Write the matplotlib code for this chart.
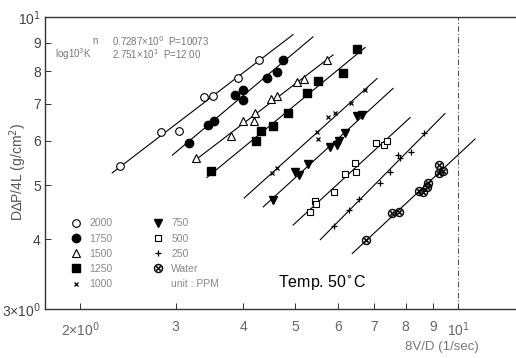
import numpy as np
import matplotlib
matplotlib.use("Agg")
import matplotlib.pyplot as plt
from matplotlib.lines import Line2D

plt.rcParams['font.family'] = ['Liberation Sans', 'DejaVu Sans']
plt.rcParams['mathtext.fontset'] = 'dejavusans'

# ---- data ----
x_2000 = [2.37, 2.82, 3.04, 3.39, 3.52, 3.92, 4.28]
y_2000 = [5.42, 6.22, 6.24, 7.19, 7.21, 7.78, 8.39]
x_1750 = [3.18, 3.45, 3.54, 3.87, 4.00, 4.00, 4.43, 4.62, 4.75]
y_1750 = [5.94, 6.40, 6.51, 7.25, 7.40, 7.10, 7.78, 7.98, 8.39]
x_1500 = [3.28, 3.80, 4.00, 4.19, 4.21, 4.51, 4.62, 5.04, 5.19, 5.72]
y_1500 = [5.60, 6.11, 6.51, 6.51, 6.73, 7.13, 7.22, 7.66, 7.75, 8.39]
x_1250 = [3.49, 4.23, 4.32, 4.55, 4.85, 5.26, 5.51, 6.13, 6.50]
y_1250 = [5.31, 5.99, 6.24, 6.37, 6.73, 7.31, 7.69, 7.95, 8.75]
x_1000 = [4.53, 4.62, 5.48, 5.51, 5.75, 5.92, 6.34, 6.73]
y_1000 = [5.26, 5.37, 6.22, 6.04, 6.62, 6.73, 7.01, 7.40]
x_750 = [4.55, 4.99, 5.08, 5.28, 5.80, 5.97, 6.02, 6.18, 6.50, 6.64]
y_750 = [4.70, 5.28, 5.22, 5.46, 5.84, 5.89, 5.99, 6.19, 6.65, 6.67]
x_500 = [5.32, 5.44, 5.46, 5.90, 6.18, 6.45, 6.47, 7.05, 7.29, 7.39]
y_500 = [4.47, 4.68, 4.62, 4.86, 5.24, 5.48, 5.28, 5.96, 5.89, 5.99]
x_250 = [5.90, 6.28, 6.56, 7.17, 7.48, 7.74, 7.81, 8.18, 8.65]
y_250 = [4.23, 4.51, 4.72, 5.04, 5.28, 5.67, 5.60, 5.72, 6.19]
x_water = [6.76, 7.55, 7.77, 8.47, 8.61, 8.76, 8.79, 9.22, 9.38, 9.22]
y_water = [3.99, 4.45, 4.47, 4.88, 4.86, 4.96, 5.04, 5.26, 5.31, 5.44]

series_labels = ['2000', '1750', '1500', '1250', '1000', '750', '500', '250', 'Water']
# extent of each fitted line along x
line_x_start = [2.29, 2.96, 3.24, 3.43, 4.02, 4.36, 4.95, 5.56, 6.37]
line_x_end = [4.95, 5.39, 5.87, 6.73, 7.08, 7.58, 8.15, 9.46, 10.75]

x_ticks = [2, 3, 4, 5, 6, 7, 8, 9, 10]
x_ticklabels = ['2×10$^0$', '3', '4', '5', '6', '7', '8', '9', '10$^1$']
y_ticks = [3, 4, 5, 6, 7, 8, 9, 10]
y_ticklabels = ['3×10$^0$', '4', '5', '6', '7', '8', '9', '10$^1$']

xs = [x_2000, x_1750, x_1500, x_1250, x_1000, x_750, x_500, x_250, x_water]
ys = [y_2000, y_1750, y_1500, y_1250, y_1000, y_750, y_500, y_250, y_water]

styles = [
    dict(marker='o', ms=5.5, mfc='white', mec='black', mew=0.8),
    dict(marker='o', ms=6, mfc='black', mec='black'),
    dict(marker='^', ms=5.5, mfc='white', mec='black', mew=0.8),
    dict(marker='s', ms=5.3, mfc='black', mec='black'),
    dict(marker='x', ms=3, mfc='black', mec='black', mew=0.9),
    dict(marker='v', ms=6, mfc='black', mec='black'),
    dict(marker='s', ms=5, mfc='white', mec='black', mew=0.8),
    dict(marker='+', ms=4.5, mfc='black', mec='black', mew=0.9),
    dict(marker='$\\otimes$', ms=6.5, mfc='black', mec='black', mew=0.3),
]

fig = plt.figure(figsize=(5.16, 3.58), dpi=100)
W, H = 516, 358
ax = fig.add_axes([45 / W, 1 - 309 / H, (W - 45) / W, (309 - 17) / H])
ax.set_xscale('log')
ax.set_yscale('log')

handles = []
for xv, yv, st, lab, x0, x1 in zip(xs, ys, styles, series_labels, line_x_start, line_x_end):
    lx, ly = np.log10(xv), np.log10(yv)
    k, b = np.polyfit(lx, ly, 1)
    xl = np.array([x0, x1])
    ax.plot(xl, 10 ** (b + k * np.log10(xl)), color='black', lw=0.8, zorder=2)
    h, = ax.plot(xv, yv, ls='none', zorder=3, label=lab, **st)
    handles.append(h)

handles.append(Line2D([], [], ls='none', marker=None, label='unit : PPM'))
leg = ax.legend(handles=handles, ncol=2, loc='upper left',
                bbox_to_anchor=(0.055, 0.31), frameon=False, fontsize=7.5,
                handlelength=1.0, handletextpad=0.8, labelspacing=0.5,
                columnspacing=3.8, borderpad=0, borderaxespad=0)
for t in leg.get_texts():
    t.set_color('#8a8a8a')

ax.axvline(10, color='#555555', lw=0.8, ls=(0, (5, 2, 1, 2)), zorder=1)

ax.set_xlim(1.72, 12.8)
ax.set_ylim(3, 10)
ax.set_xticks(x_ticks)
ax.set_xticklabels(x_ticklabels)
ax.set_yticks(y_ticks)
ax.set_yticklabels(y_ticklabels)
ax.minorticks_off()
ax.tick_params(axis='both', direction='in', length=4, width=0.7, colors='#333333',
               labelsize=10)
ax.tick_params(axis='x', pad=8, labelcolor='#666666')
ax.tick_params(axis='y', pad=3, labelcolor='#444444')
ax.spines['right'].set_visible(False)
for s in ['top', 'bottom', 'left']:
    ax.spines[s].set_linewidth(1.0)
    ax.spines[s].set_color('#333333')

# annotation texts
fig.text(92 / W, 1 - 41 / H, 'n', fontsize=7, color='#777777', va='center')
fig.text(112 / W, 1 - 41 / H, '0.7287×10$^0$  P=10073', fontsize=7,
         color='#777777', va='center')
fig.text(55 / W, 1 - 54 / H, 'log10$^3$K', fontsize=7, color='#777777', va='center')
fig.text(112 / W, 1 - 54 / H, '2.751×10$^1$  P=12.00', fontsize=7,
         color='#777777', va='center')
fig.text(278 / W, 1 - 283 / H, 'Temp. 50$^{\\circ}$C', fontsize=11.5,
         color='black', va='center')
fig.text(18 / W, 1 - 172 / H, 'D∆P/4L (g/cm$^2$)', fontsize=10, rotation=90,
         color='#555555', va='center', ha='center')
fig.text(442 / W, 1 - 347 / H, '8V/D (1/sec)', fontsize=9.5, color='#777777',
         va='center', ha='center')

fig.savefig('out.png', dpi=100)
